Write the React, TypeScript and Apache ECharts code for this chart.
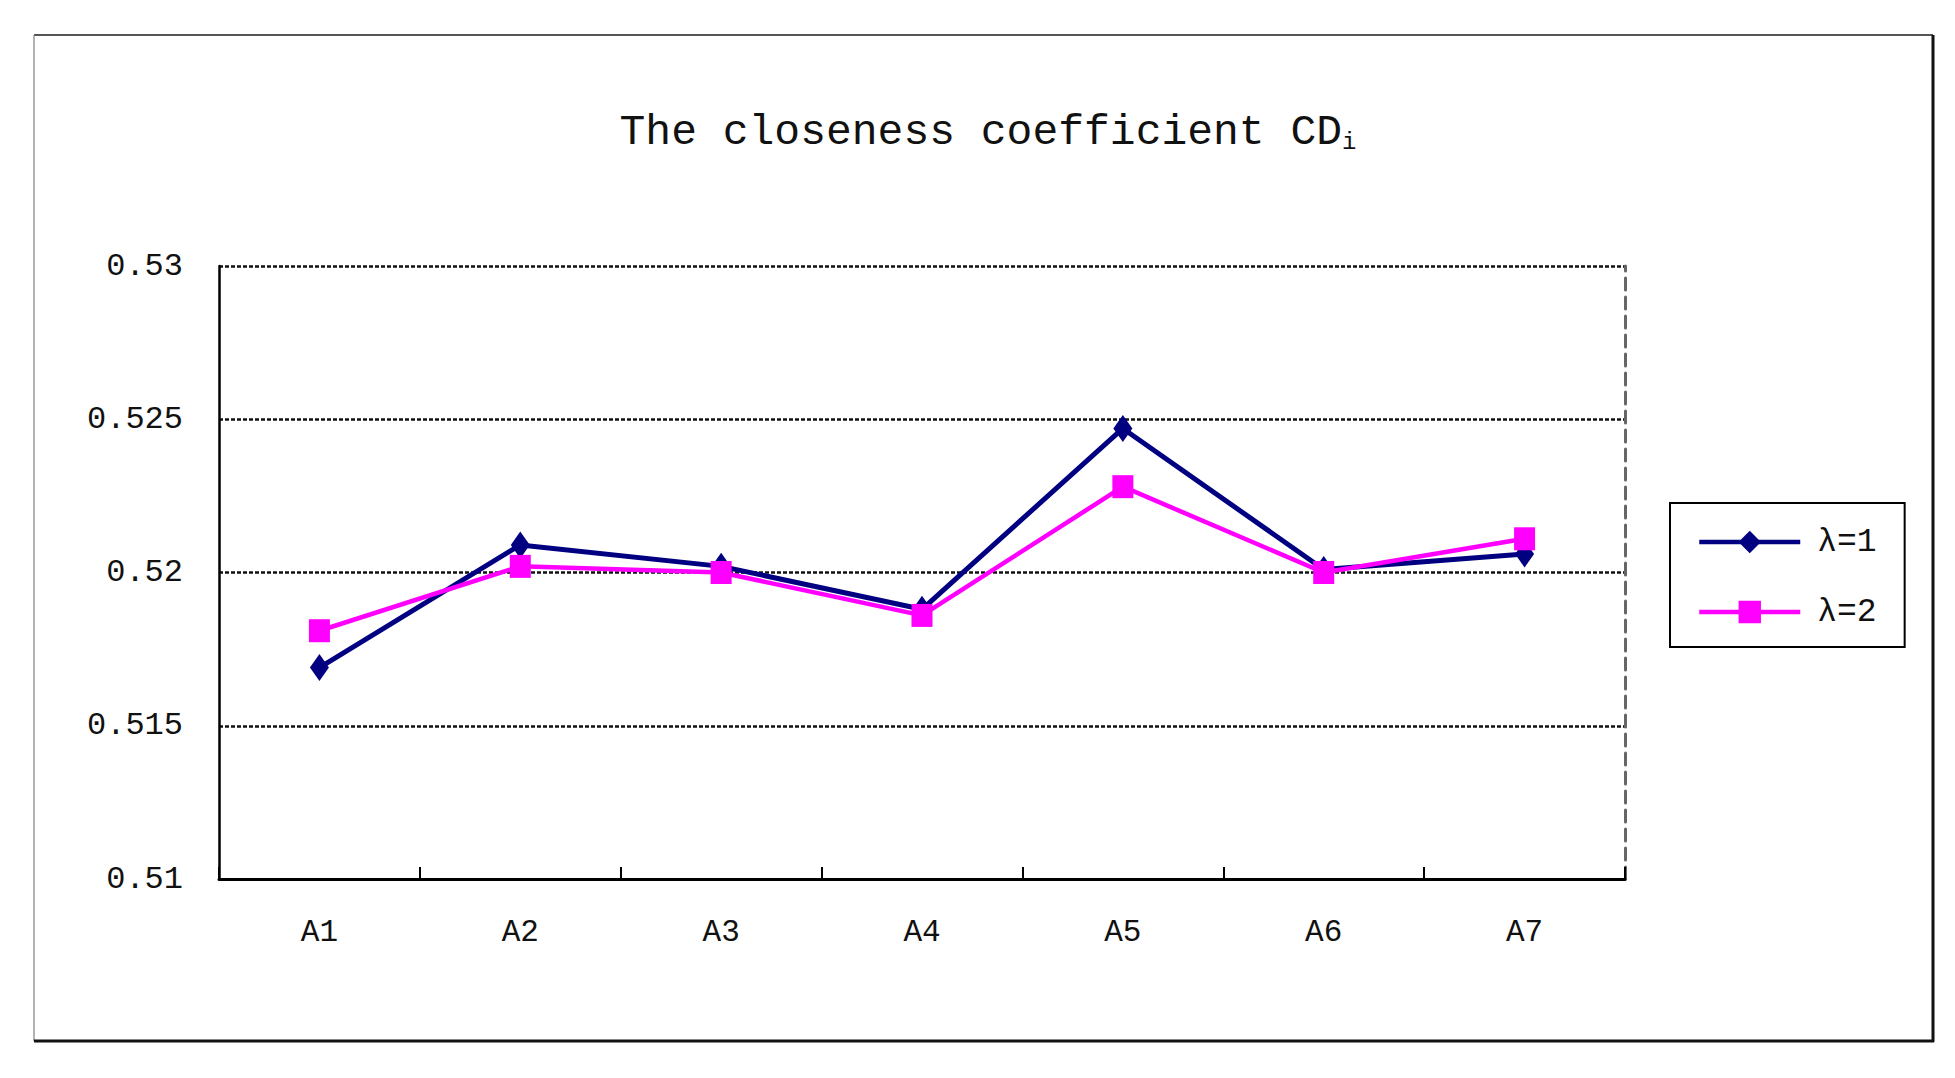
import React, { useEffect, useRef } from "react";
import * as echarts from "echarts";

const categories = ["A1", "A2", "A3", "A4", "A5", "A6", "A7"];
const seriesNames = ["λ=1", "λ=2"];
const lambda1 = [0.5169, 0.5209, 0.5202, 0.5188, 0.5247, 0.5201, 0.5206];
const lambda2 = [0.5181, 0.5202, 0.5200, 0.5186, 0.5228, 0.5200, 0.5211];
const yMin = 0.51;
const yMax = 0.53;
const yStep = 0.005;

const MONO = "'Liberation Mono', 'DejaVu Sans Mono', monospace";

export default function App() {
  const ref = useRef<HTMLDivElement>(null);
  useEffect(() => {
    document.body.style.margin = "0";
    const chart = echarts.init(ref.current!, null, { renderer: "svg" });
    const fmt = (v: number) => {
      let s = v.toFixed(3);
      s = s.replace(/0+$/, "");
      return s;
    };
    chart.setOption({
      animation: false,
      backgroundColor: "#ffffff",
      title: {
        text: "The closeness coefficient CD{sub|i}",
        left: 983,
        textAlign: "center",
        top: 106,
        textStyle: {
          fontFamily: MONO,
          fontSize: 43,
          fontWeight: "normal",
          color: "#111",
          rich: {
            sub: { fontFamily: MONO, fontSize: 24, color: "#111", verticalAlign: "bottom", padding: [14, 0, 0, 0] },
          },
        },
      },
      legend: {
        orient: "vertical",
        left: 1670,
        top: 503,
        padding: [21, 28, 17, 27],
        itemGap: 34,
        itemWidth: 101,
        itemHeight: 28,
        borderColor: "#000",
        borderWidth: 2,
        backgroundColor: "#fff",
        lineStyle: { width: 4.5 },
        textStyle: { fontFamily: MONO, fontSize: 33, color: "#111", lineHeight: 36, padding: [0, 0, 0, 12] },
        data: seriesNames,
      },
      grid: { left: 219, right: 330, top: 266, bottom: 199 },
      xAxis: {
        type: "category",
        data: categories,
        boundaryGap: true,
        axisLine: { lineStyle: { color: "#000", width: 3 } },
        axisTick: { show: true, inside: true, length: 12, lineStyle: { color: "#000", width: 2 } },
        axisLabel: { fontFamily: MONO, fontSize: 31, color: "#111", margin: 38 },
      },
      yAxis: [
        {
          type: "value",
          min: yMin,
          max: yMax,
          interval: yStep,
          axisLine: { show: true, lineStyle: { color: "#000", width: 2.5 } },
          axisTick: { show: false },
          axisLabel: { fontFamily: MONO, fontSize: 32, color: "#111", margin: 36, formatter: fmt },
          splitLine: { show: true, lineStyle: { color: "#111", width: 2.5, type: [4, 2] } },
        },
        {
          type: "value",
          position: "right",
          min: yMin,
          max: yMax,
          interval: yStep,
          axisLine: { show: true, lineStyle: { color: "#666", width: 3, type: [12, 7] } },
          axisTick: { show: false },
          axisLabel: { show: false },
          splitLine: { show: false },
        },
      ],
      graphic: [
        { type: "line", shape: { x1: 34, y1: 35, x2: 1933, y2: 35 }, style: { stroke: "#555", lineWidth: 2 } },
        { type: "line", shape: { x1: 34, y1: 35, x2: 34, y2: 1041 }, style: { stroke: "#999", lineWidth: 1.5 } },
        { type: "line", shape: { x1: 1933, y1: 35, x2: 1933, y2: 1042 }, style: { stroke: "#111", lineWidth: 3 } },
        { type: "line", shape: { x1: 34, y1: 1041, x2: 1934, y2: 1041 }, style: { stroke: "#111", lineWidth: 3 } },
      ],
      series: [
        {
          name: seriesNames[0],
          type: "line",
          data: lambda1,
          symbol: "diamond",
          symbolSize: [19, 27],
          lineStyle: { color: "#000080", width: 5 },
          itemStyle: { color: "#000080" },
        },
        {
          name: seriesNames[1],
          type: "line",
          data: lambda2,
          symbol: "rect",
          symbolSize: [21, 23],
          lineStyle: { color: "#ff00ff", width: 4.5 },
          itemStyle: { color: "#ff00ff" },
        },
      ],
    });
    return () => chart.dispose();
  }, []);
  return <div ref={ref} style={{ width: 1955, height: 1078 }} />;
}
